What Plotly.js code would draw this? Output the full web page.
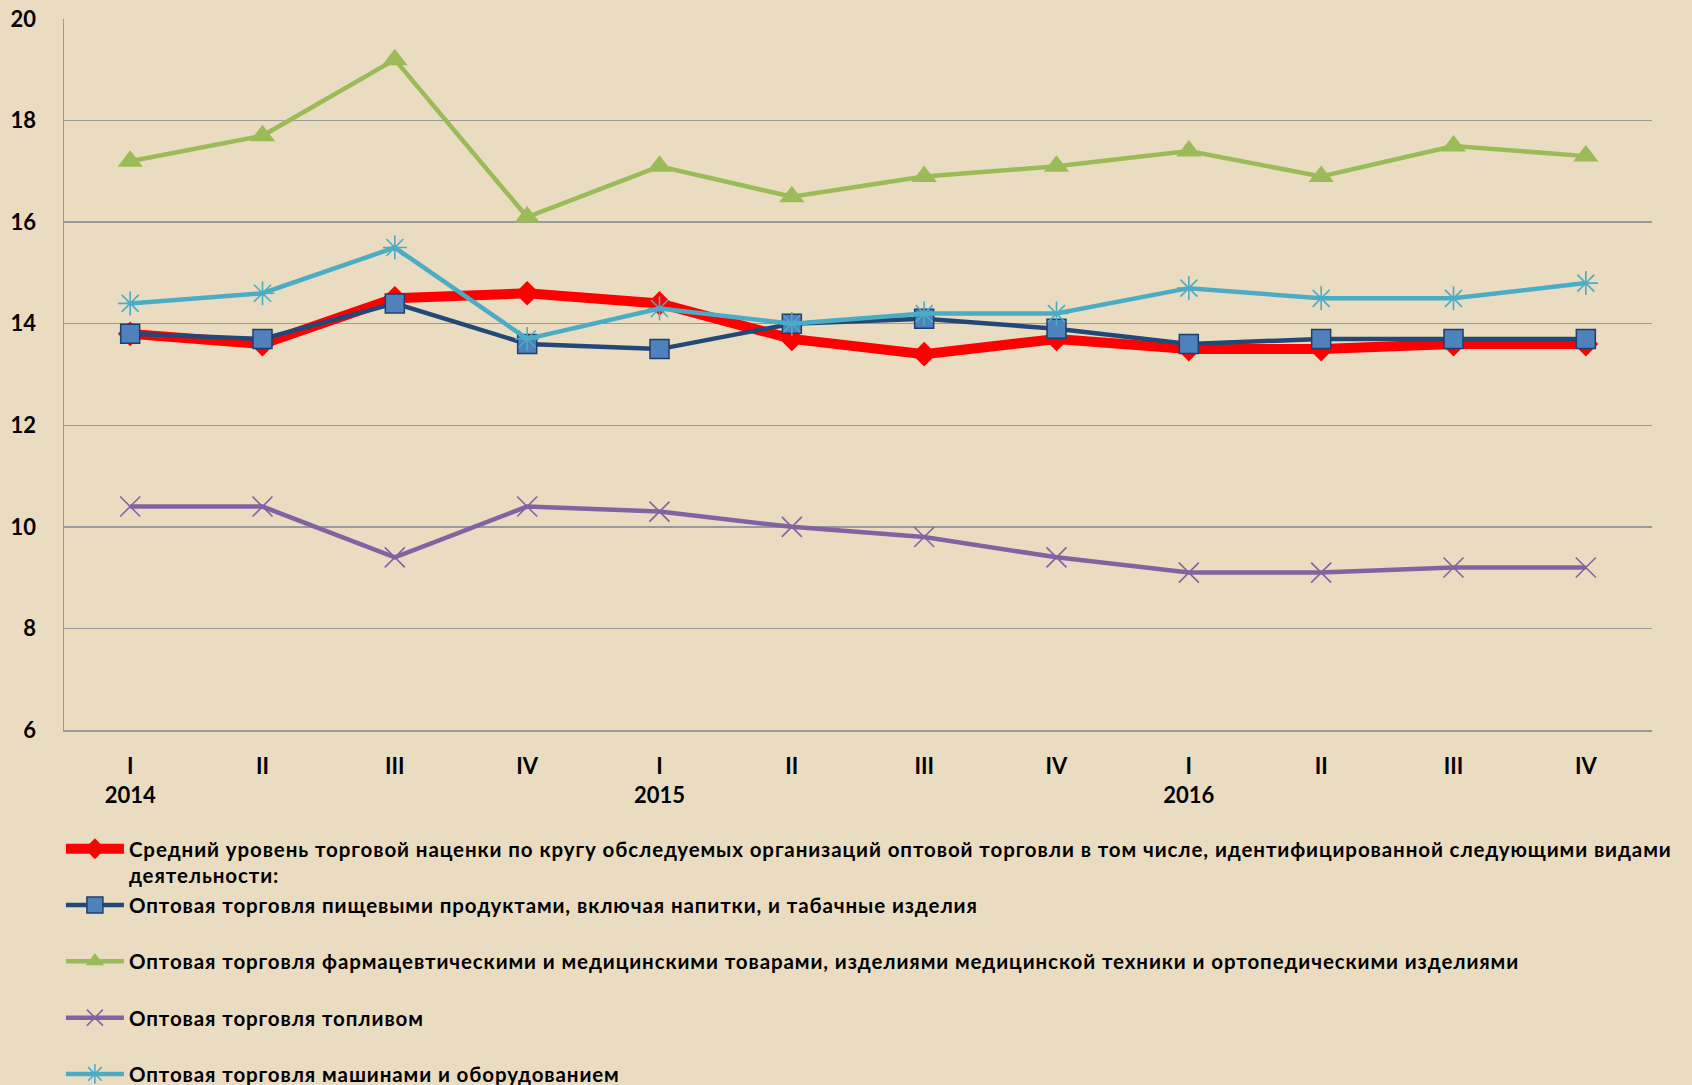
<!DOCTYPE html>
<html>
<head>
<meta charset="utf-8">
<script src="https://cdn.plot.ly/plotly-3.0.1.min.js"></script>
<style>
  html, body { margin: 0; padding: 0; background: #EADCC1; }
  #chart { width: 1692px; height: 1085px; }
  #chart .legendtext { letter-spacing: 0.9px; }
  #chart .legend .scrollbox { clip-path: none !important; }
</style>
</head>
<body>
<div id="chart"></div>
<script>
// Periods (quarters 2014-2016)
const periods = ['I 2014','II 2014','III 2014','IV 2014','I 2015','II 2015','III 2015','IV 2015','I 2016','II 2016','III 2016','IV 2016'];
const tickLabels = ['I<br>2014','II','III','IV','I<br>2015','II','III','IV','I<br>2016','II','III','IV'];

// Series values (%)
const avgMarkup   = [13.8, 13.6, 14.5, 14.6, 14.4, 13.7, 13.4, 13.7, 13.5, 13.5, 13.6, 13.6];
const foodTrade   = [13.8, 13.7, 14.4, 13.6, 13.5, 14.0, 14.1, 13.9, 13.6, 13.7, 13.7, 13.7];
const pharmaTrade = [17.2, 17.7, 19.2, 16.1, 17.1, 16.5, 16.9, 17.1, 17.4, 16.9, 17.5, 17.3];
const fuelTrade   = [10.4, 10.4, 9.4, 10.4, 10.3, 10.0, 9.8, 9.4, 9.1, 9.1, 9.2, 9.2];
const machTrade   = [14.4, 14.6, 15.5, 13.7, 14.3, 14.0, 14.2, 14.2, 14.7, 14.5, 14.5, 14.8];

// Series names
const nameAvg    = 'Средний уровень торговой наценки по кругу обследуемых организаций оптовой торговли в том числе, идентифицированной следующими видами<br>деятельности:';
const nameFood   = 'Оптовая торговля пищевыми продуктами, включая напитки, и табачные изделия<br>\u00a0';
const namePharma = 'Оптовая торговля фармацевтическими и медицинскими товарами, изделиями медицинской техники и ортопедическими изделиями<br>\u00a0';
const nameFuel   = 'Оптовая торговля топливом<br>\u00a0';
const nameMach   = 'Оптовая торговля машинами и оборудованием<br>\u00a0';

const yTicks = [6, 8, 10, 12, 14, 16, 18, 20];

const traces = [
  {
    x: periods, y: avgMarkup, name: nameAvg, legendgroup: 'a',
    mode: 'lines+markers', type: 'scatter',
    line: {color: '#FF0000', width: 10},
    marker: {symbol: 'diamond', size: 19, color: '#FF0000'}
  },
  {
    x: periods, y: foodTrade, name: nameFood, legendgroup: 'b',
    mode: 'lines+markers', type: 'scatter',
    line: {color: '#234878', width: 4.5},
    marker: {symbol: 'square', size: 19, color: '#4F81BD', line: {color: '#1F3F6C', width: 1.5}}
  },
  {
    x: periods, y: pharmaTrade, name: namePharma, legendgroup: 'c',
    mode: 'lines+markers', type: 'scatter',
    line: {color: '#9BBB59', width: 4.5},
    marker: {symbol: 'triangle-up', size: 22, color: '#9BBB59'}
  },
  {
    x: periods, y: fuelTrade, name: nameFuel, legendgroup: 'd',
    mode: 'lines+markers', type: 'scatter',
    line: {color: '#8064A2', width: 4.5},
    marker: {symbol: 'x-thin-open', size: 20, color: '#8064A2', line: {color: '#8064A2', width: 1.6}}
  },
  {
    x: periods, y: machTrade, name: nameMach, legendgroup: 'e',
    mode: 'lines+markers', type: 'scatter',
    line: {color: '#4BACC6', width: 4.5},
    marker: {symbol: 'asterisk-open', size: 20, color: '#4BACC6', line: {color: '#4BACC6', width: 1.6}}
  }
];

const font = {family: 'Lato, "Liberation Sans", sans-serif', size: 22, color: '#000000', weight: 'bold'};

const layout = {
  width: 1692, height: 1085,
  paper_bgcolor: '#EADCC1',
  plot_bgcolor: '#EADCC1',
  font: font,
  margin: {l: 64, r: 40, t: 19, b: 355, pad: 0, autoexpand: false},
  showlegend: true,
  legend: {
    xref: 'container', yref: 'container',
    x: 0.036, y: 0.236, xanchor: 'left', yanchor: 'top',
    orientation: 'v', traceorder: 'normal',
    bgcolor: 'rgba(0,0,0,0)',
    font: {family: font.family, size: 20.5, color: '#000', weight: 'bold'},
    itemwidth: 58,
    valign: 'top',
    tracegroupgap: 0
  },
  xaxis: {
    type: 'category',
    tickvals: periods,
    ticktext: tickLabels,
    tickangle: 0,
    showgrid: false,
    showline: true, linecolor: '#9a9a9a', linewidth: 1.5,
    ticks: '',
    ticklabelstandoff: 16,
    tickfont: font,
    range: [-0.5, 11.5],
    fixedrange: true
  },
  yaxis: {
    range: [6, 20],
    tickvals: yTicks,
    ticktext: yTicks.map(String),
    showgrid: true, gridcolor: '#9a9a9a', gridwidth: 1.5,
    showline: true, linecolor: '#9a9a9a', linewidth: 1.5,
    zeroline: false,
    ticks: '',
    ticklabelstandoff: 22,
    tickfont: font,
    fixedrange: true
  }
};

Plotly.newPlot('chart', traces, layout, {displayModeBar: false, staticPlot: true});
</script>
</body>
</html>
